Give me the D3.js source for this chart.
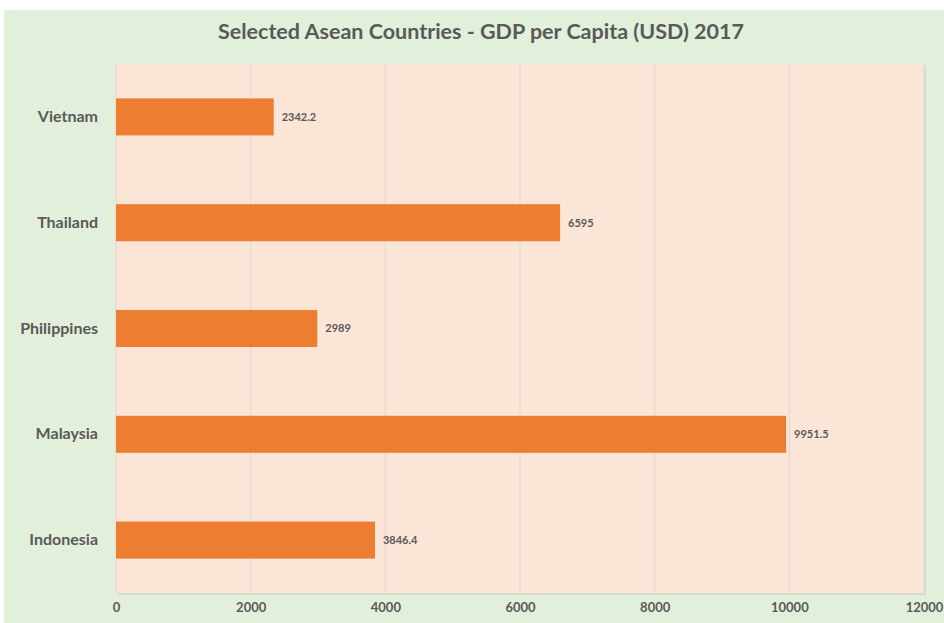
<!DOCTYPE html>
<html>
<head>
<meta charset="utf-8">
<script src="https://cdn.jsdelivr.net/npm/d3@7"></script>
<style>
  html, body { margin: 0; padding: 0; background: #ffffff; }
  svg { display: block; }
  text { font-family: Lato, "Open Sans", sans-serif; font-weight: bold; fill: #595959; }
</style>
</head>
<body>
<svg id="chart" width="944" height="623"></svg>
<script>
// GDP per capita, 2017 (USD)
const countries = ["Vietnam", "Thailand", "Philippines", "Malaysia", "Indonesia"];
const gdpPerCapita = [2342.2, 6595, 2989, 9951.5, 3846.4];
const valueLabels = ["2342.2", "6595", "2989", "9951.5", "3846.4"];
const xTicks = [0, 2000, 4000, 6000, 8000, 10000, 12000];
const chartTitle = "Selected Asean Countries - GDP per Capita (USD) 2017";

const svg = d3.select("#chart");
const W = 944, H = 623;
const plot = { left: 116, right: 924, top: 64, bottom: 593 };

// outer chart background
svg.append("rect")
  .attr("x", 4).attr("y", 10).attr("width", W - 4).attr("height", H - 10)
  .attr("fill", "#e2efda");

// plot area with a soft right-hand shadow
svg.append("rect")
  .attr("x", plot.left + 2).attr("y", plot.top + 2)
  .attr("width", plot.right - plot.left).attr("height", plot.bottom - plot.top)
  .attr("fill", "#d4dccf");
svg.append("rect")
  .attr("x", plot.left - 1).attr("y", plot.top)
  .attr("width", plot.right - plot.left + 1).attr("height", plot.bottom - plot.top)
  .attr("fill", "#fbe5d6");

const x = d3.scaleLinear().domain([0, 12000]).range([plot.left, plot.right]);
const y = d3.scaleBand().domain(countries).range([plot.top, plot.bottom])
  .paddingInner(0.65).paddingOuter(0.325);

// vertical gridlines
svg.append("g")
  .selectAll("line")
  .data(xTicks)
  .join("line")
  .attr("x1", d => x(d)).attr("x2", d => x(d))
  .attr("y1", plot.top).attr("y2", plot.bottom)
  .attr("stroke", "#d9d9d9").attr("stroke-width", 1);

// bars
const rows = countries.map((c, i) => ({ country: c, value: gdpPerCapita[i], label: valueLabels[i] }));
svg.append("g")
  .selectAll("rect")
  .data(rows)
  .join("rect")
  .attr("x", x(0))
  .attr("y", d => y(d.country))
  .attr("width", d => x(d.value) - x(0))
  .attr("height", y.bandwidth())
  .attr("fill", "#ed7d31");

// value labels
svg.append("g")
  .selectAll("text")
  .data(rows)
  .join("text")
  .attr("x", d => x(d.value) + 8)
  .attr("y", d => y(d.country) + y.bandwidth() / 2)
  .attr("dy", "0.35em")
  .attr("font-size", 11)
  .text(d => d.label);

// category axis
const yAxis = svg.append("g")
  .attr("transform", `translate(${plot.left - 18},0)`)
  .call(d3.axisLeft(y).tickSize(0).tickPadding(0));
yAxis.select(".domain").remove();
yAxis.selectAll("text")
  .attr("font-size", 16)
  .style("font-family", "Lato, 'Open Sans', sans-serif")
  .style("font-weight", "bold")
  .attr("fill", "#595959");

// value axis
const xAxis = svg.append("g")
  .attr("transform", `translate(0,${plot.bottom})`)
  .call(d3.axisBottom(x).tickValues(xTicks).tickFormat(d3.format("d")).tickSize(0).tickPadding(10));
xAxis.select(".domain").remove();
xAxis.selectAll("text")
  .attr("font-size", 13)
  .style("font-family", "Lato, 'Open Sans', sans-serif")
  .style("font-weight", "bold")
  .attr("fill", "#595959");

// title
svg.append("text")
  .attr("x", 481).attr("y", 39)
  .attr("text-anchor", "middle")
  .attr("font-size", 21.5)
  .text(chartTitle);
</script>
</body>
</html>
